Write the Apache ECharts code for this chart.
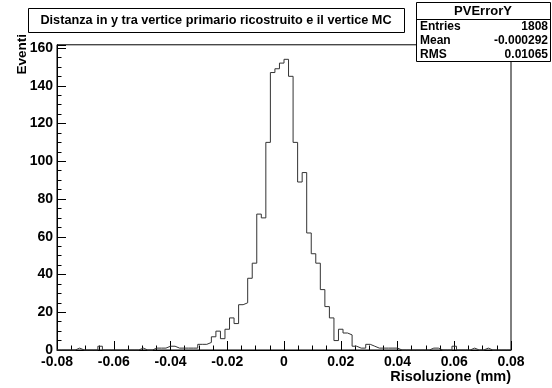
<!DOCTYPE html>
<html><head><meta charset="utf-8">
<script src="https://cdn.jsdelivr.net/npm/echarts@6/dist/echarts.min.js"></script>
<style>html,body{margin:0;padding:0;background:#fff}#c{width:552px;height:388px}</style>
</head><body><div id="c"></div>
<script>
// Histogram definition (100 bins from -0.08 to 0.08)
const xMin = -0.08;
const xMax = 0.08;
const binWidth = 0.0016;
// counts per bin, bin 0 = [-0.08,-0.0784]
const counts = [
  0,0,0,0,1,0,0,0,0,2,      // -0.080 .. -0.0656
  0,0,0,0,0,0,0,0,1,0,      // -0.064 .. -0.0496
  0,1,1,1,2,2,1,1,1,1,      // -0.048 .. -0.0336
  1,3,3,4,7,10,6,11,17,14,  // -0.032 .. -0.0176
  24,25,38,46,72,70,110,147,149,152, // -0.016 .. -0.0016
  154,145,110,89,94,62,51,46,32,23,  // 0 .. 0.0144
  17,5,11,9,8,2,1,1,3,2,    // 0.016 .. 0.0304
  1,1,1,1,1,0,0,0,0,0,      // 0.032 .. 0.0464
  0,0,1,1,0,0,0,2,0,0,      // 0.048 .. 0.0624
  0,1,0,0,1,0,0,0,0,0       // 0.064 .. 0.0784
];
const xTickLabels = ['-0.08','-0.06','-0.04','-0.02','0','0.02','0.04','0.06','0.08'];
const yTicks = [0,20,40,60,80,100,120,140,160];
const histName = 'PVErrorY';
const statLabels = ['Entries','Mean','RMS'];
const statValues = ['1808','-0.000292','0.01065'];
const titleText = 'Distanza in y tra vertice primario ricostruito e il vertice MC';
const xTitle = 'Risoluzione (mm)';
const yTitle = 'Eventi';

const pts = counts.map((v,i)=>[xMin + i*binWidth, v]);
pts.push([xMax, counts[counts.length-1]]);
const yMax = Math.max(...counts)*1.05;

const F = '"Liberation Sans", Arial, Helvetica, sans-serif';
const chart = echarts.init(document.getElementById('c'), null, {renderer:'canvas'});
const L = 57, R = 511, T = 350 - yMax*(302/160), B = 350;
chart.setOption({
  animation:false,
  backgroundColor:'#fff',
  grid:{left:L, right:552-R, top:T, bottom:388-B, show:true, borderColor:'#000', borderWidth:1, backgroundColor:'transparent'},
  xAxis:{type:'value', min:xMin, max:xMax, interval:0.02,
    axisLine:{onZero:false, lineStyle:{color:'#000',width:1}},
    axisTick:{inside:true, length:9, lineStyle:{color:'#000'}},
    minorTick:{show:true, splitNumber:4, length:4.5, lineStyle:{color:'#000'}},
    splitLine:{show:false},
    axisLabel:{color:'#000', fontFamily:F, fontWeight:'bold', fontSize:14, margin:5,
      formatter:(v)=>{const i=Math.round((v-xMin)/0.02); return Math.abs(xMin+i*0.02-v)<1e-9 ? xTickLabels[i] : '';}}
  },
  yAxis:{type:'value', min:0, max:yMax, interval:20,
    axisLine:{show:true, onZero:false, lineStyle:{color:'#000',width:1}},
    axisTick:{inside:true, length:9, lineStyle:{color:'#000'}},
    minorTick:{show:true, splitNumber:4, length:4.5, lineStyle:{color:'#000'}},
    splitLine:{show:false},
    axisLabel:{color:'#000', fontFamily:F, fontWeight:'bold', fontSize:14, margin:4,
      formatter:(v)=> yTicks.indexOf(Math.round(v))>=0 && Math.abs(v-Math.round(v))<1e-6 ? String(Math.round(v)) : ''}
  },
  series:[{type:'line', data:pts, step:'end', showSymbol:false, clip:false,
    lineStyle:{color:'#333', width:1}}],
  graphic:[
    {type:'rect', shape:{x:28.5,y:8.5,width:376,height:24}, style:{fill:'#fff',stroke:'#000',lineWidth:1}, z:10},
    {type:'text', x:216, y:20.5, style:{text:titleText, font:'bold 12.7px '+F, fill:'#000', textAlign:'center', textVerticalAlign:'middle'}, z:11},
    {type:'rect', shape:{x:416.5,y:2.5,width:134,height:59}, style:{fill:'#fff',stroke:'#000',lineWidth:1}, z:10},
    {type:'line', shape:{x1:416.5,y1:19.5,x2:550.5,y2:19.5}, style:{stroke:'#000',lineWidth:1}, z:11},
    {type:'text', x:483, y:11.5, style:{text:histName, font:'bold 13px '+F, fill:'#000', textAlign:'center', textVerticalAlign:'middle'}, z:11},
    {type:'text', x:420, y:27, style:{text:statLabels[0], font:'bold 12px '+F, fill:'#000', textAlign:'left', textVerticalAlign:'middle'}, z:11},
    {type:'text', x:420, y:41, style:{text:statLabels[1], font:'bold 12px '+F, fill:'#000', textAlign:'left', textVerticalAlign:'middle'}, z:11},
    {type:'text', x:420, y:55, style:{text:statLabels[2], font:'bold 12px '+F, fill:'#000', textAlign:'left', textVerticalAlign:'middle'}, z:11},
    {type:'text', x:548, y:27, style:{text:statValues[0], font:'bold 12px '+F, fill:'#000', textAlign:'right', textVerticalAlign:'middle'}, z:11},
    {type:'text', x:548, y:41, style:{text:statValues[1], font:'bold 12px '+F, fill:'#000', textAlign:'right', textVerticalAlign:'middle'}, z:11},
    {type:'text', x:548, y:55, style:{text:statValues[2], font:'bold 12px '+F, fill:'#000', textAlign:'right', textVerticalAlign:'middle'}, z:11},
    {type:'text', x:511, y:377, style:{text:xTitle, font:'bold 14.5px '+F, fill:'#000', textAlign:'right', textVerticalAlign:'middle'}, z:11},
    {type:'text', x:22, y:34, rotation:Math.PI/2, style:{text:yTitle, font:'bold 13.5px '+F, fill:'#000', textAlign:'right', textVerticalAlign:'middle'}, z:11}
  ]
});
</script></body></html>
